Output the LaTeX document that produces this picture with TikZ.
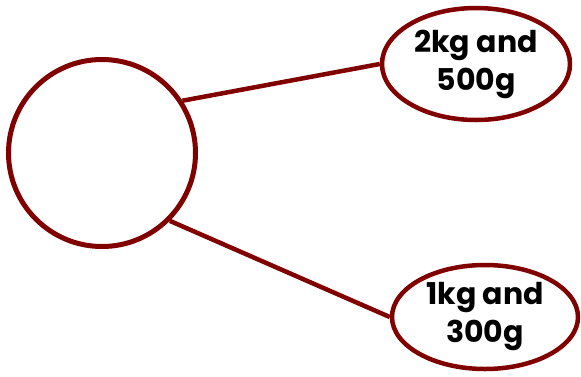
\documentclass[tikz,border=0pt]{standalone}
\usepackage{fontspec}
\setmainfont{Poppins}
\usetikzlibrary{shapes.geometric}
\definecolor{maroon}{HTML}{800000}

\begin{document}
\begin{tikzpicture}[x=1pt,y=-1pt]
\useasboundingbox (0,0) rectangle (581,376);
\node[draw=maroon, circle, line width=5pt, minimum size=187pt] at (102,153) (whole) {};
\node[draw=maroon, ellipse, line width=4.5pt, minimum width=188pt, minimum height=112pt,
  inner sep=0pt, font=\bfseries\fontsize{30}{38}\selectfont, align=center] at (476,64) (parta) {2kg and\\500g};
\node[draw=maroon, ellipse, line width=4.5pt, minimum width=186pt, minimum height=104pt,
  inner sep=0pt, font=\bfseries\fontsize{30}{38}\selectfont, align=center] at (485,317) (partb) {1kg and\\300g};

\draw[maroon, line width=4.5pt] (whole.33) to (parta.west);
\draw[maroon, line width=4.5pt] (whole.-45) to (partb.west);
\end{tikzpicture}
\end{document}
